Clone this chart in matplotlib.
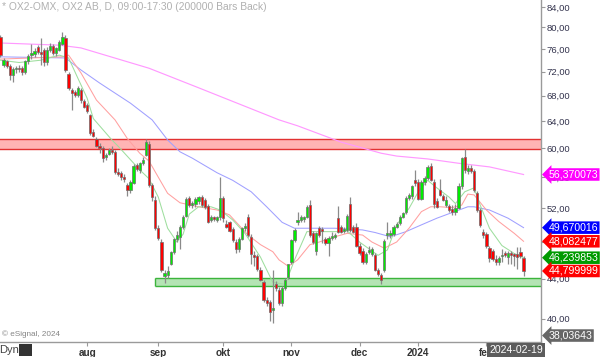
import matplotlib
matplotlib.use('Agg')
import matplotlib.pyplot as plt
import matplotlib.transforms as mtransforms
from matplotlib.patches import Rectangle
from matplotlib.ticker import NullLocator, FixedLocator
import numpy as np
import pandas as pd

plt.rcParams['font.family'] = ['Liberation Sans', 'DejaVu Sans']

# ---------------- data ----------------
first_day = '2023-06-21'
last_day = '2024-02-19'
exchange_holidays = ['2023-06-23', '2023-12-25', '2023-12-26', '2024-01-01']

opens = [78.2, 73.2, 73.8, 73.0, 71.4, 72.4, 72.6, 72.6, 71.9, 73.8,
         74.9, 75.1, 76.3, 75.3, 75.8, 73.6, 75.8, 76.6, 75.3, 75.9,
         77.0, 78.1, 71.6, 68.9, 68.6, 68.1, 68.9, 67.1, 66.5, 64.9,
         62.4, 61.3, 60.4, 60.1, 58.7, 59.2, 59.6, 59.5, 56.7, 56.6,
         56.0, 55.0, 54.3, 55.3, 57.7, 57.0, 58.0, 59.1, 60.6, 55.0,
         53.1, 49.6, 48.0, 44.3, 44.4, 45.6, 46.9, 48.4, 48.6, 49.8,
         51.1, 53.3, 52.4, 52.5, 52.9, 53.4, 53.1, 52.3, 50.6, 50.9,
         50.6, 50.9, 53.3, 50.1, 50.3, 49.5, 48.0, 47.2, 48.4, 49.6,
         51.0, 48.6, 46.4, 46.4, 44.9, 43.6, 41.8, 41.6, 40.8, 43.4,
         42.8, 41.5, 43.0, 44.2, 45.8, 48.2, 50.4, 50.6, 50.7, 51.0,
         52.4, 49.0, 47.0, 49.6, 49.4, 48.3, 47.9, 48.5, 48.6, 50.8,
         49.7, 49.3, 49.4, 52.6, 49.7, 49.7, 47.6, 47.0, 45.8, 46.9,
         46.7, 46.5, 44.9, 44.4, 44.9, 48.8, 48.8, 48.9, 49.8, 50.2,
         51.0, 51.5, 53.3, 53.5, 55.6, 55.4, 53.2, 55.4, 55.9, 57.5,
         55.4, 52.9, 54.3, 53.5, 52.4, 52.3, 51.9, 51.6, 52.1, 54.9,
         58.8, 56.9, 57.3, 56.8, 53.9, 51.8, 49.2, 48.9, 47.3, 47.0,
         46.1, 45.8, 46.4, 46.8, 46.3, 46.8, 46.6, 46.6, 46.9, 46.2]
highs = [78.5, 74.4, 74.0, 73.3, 72.8, 73.0, 73.1, 73.0, 74.0, 75.1,
         77.0, 76.2, 76.8, 78.0, 76.2, 76.3, 77.1, 77.0, 76.4, 77.6,
         79.1, 78.5, 72.0, 69.2, 68.9, 69.6, 69.3, 67.4, 66.8, 65.1,
         62.8, 61.6, 60.7, 60.3, 59.4, 60.0, 60.4, 59.8, 57.2, 56.9,
         56.4, 55.3, 55.6, 57.8, 58.0, 58.1, 58.7, 61.4, 61.0, 55.3,
         53.5, 50.0, 48.3, 44.9, 45.3, 47.0, 48.5, 49.3, 50.0, 51.2,
         53.4, 53.6, 52.9, 53.4, 53.6, 53.7, 53.3, 52.6, 51.2, 51.1,
         51.1, 56.0, 53.6, 50.6, 50.5, 49.8, 48.3, 48.6, 49.8, 50.2,
         51.3, 48.9, 47.0, 46.6, 45.2, 43.8, 42.1, 41.8, 44.9, 43.7,
         43.1, 43.2, 44.1, 45.6, 48.3, 49.6, 51.5, 51.2, 51.1, 52.4,
         53.0, 49.3, 49.2, 49.9, 49.7, 48.6, 48.7, 49.2, 49.0, 52.3,
         50.0, 49.7, 51.3, 53.4, 50.0, 50.2, 47.9, 47.3, 46.9, 47.5,
         47.4, 46.8, 45.1, 44.6, 48.3, 50.3, 49.4, 50.0, 50.4, 51.2,
         51.6, 53.6, 53.9, 55.0, 57.0, 55.8, 55.7, 56.2, 57.7, 57.9,
         55.8, 53.3, 55.8, 53.8, 53.5, 52.6, 52.4, 52.6, 55.2, 58.8,
         59.9, 57.6, 57.6, 57.1, 54.2, 52.0, 49.5, 49.1, 47.5, 47.2,
         46.5, 46.4, 47.2, 47.0, 47.0, 47.0, 46.8, 47.4, 47.4, 46.4]
lows = [74.6, 72.9, 72.6, 70.6, 70.3, 71.8, 72.0, 71.5, 71.6, 73.4,
        74.3, 74.6, 75.1, 73.2, 73.0, 73.2, 75.5, 75.0, 74.8, 75.6,
        76.8, 72.0, 69.0, 65.7, 67.8, 67.8, 66.9, 66.0, 65.2, 62.0,
        61.6, 60.2, 59.4, 58.1, 58.4, 59.0, 59.2, 56.5, 56.2, 55.6,
        55.4, 53.5, 54.0, 55.1, 56.9, 56.6, 57.6, 58.9, 54.7, 52.9,
        49.4, 48.2, 44.7, 43.5, 44.1, 45.4, 46.6, 48.0, 47.2, 49.5,
        50.9, 52.2, 52.1, 52.2, 52.6, 52.2, 51.9, 50.2, 50.3, 50.5,
        50.4, 50.6, 50.3, 49.6, 49.1, 48.0, 46.8, 46.9, 48.2, 49.3,
        48.6, 45.6, 45.3, 44.8, 43.7, 41.6, 41.2, 39.8, 39.6, 42.7,
        41.3, 41.2, 42.8, 44.0, 45.6, 48.0, 50.0, 50.3, 50.4, 50.8,
        48.6, 47.8, 46.5, 48.6, 47.9, 47.7, 46.4, 48.2, 48.3, 49.0,
        49.0, 49.0, 49.2, 49.2, 49.0, 47.4, 46.5, 45.6, 45.5, 46.7,
        46.4, 44.8, 44.3, 43.4, 44.7, 48.4, 48.5, 48.7, 49.6, 50.0,
        50.8, 51.3, 53.0, 53.2, 54.9, 53.0, 53.0, 55.0, 55.6, 55.5,
        52.1, 52.0, 53.5, 52.9, 52.2, 51.5, 51.2, 51.2, 51.9, 54.5,
        56.6, 56.5, 56.6, 54.1, 51.6, 49.8, 48.5, 47.3, 45.8, 45.9,
        45.4, 45.4, 45.8, 46.3, 45.6, 45.6, 45.3, 45.0, 46.2, 44.3]
closes = [74.9, 74.0, 73.0, 71.4, 72.4, 72.6, 72.4, 71.9, 73.8, 74.8,
          75.2, 75.6, 75.4, 75.1, 73.6, 75.8, 76.6, 75.3, 76.1, 77.3,
          78.3, 72.3, 69.3, 68.4, 68.1, 69.3, 67.3, 66.2, 65.5, 62.2,
          61.8, 60.4, 60.1, 58.6, 59.1, 59.7, 59.5, 56.7, 56.4, 56.0,
          55.8, 54.3, 55.4, 57.5, 57.1, 57.9, 58.4, 60.9, 55.0, 53.4,
          49.6, 48.5, 44.9, 44.6, 44.8, 46.9, 48.4, 48.8, 49.8, 51.0,
          53.2, 52.4, 52.5, 53.2, 53.4, 52.4, 52.2, 50.4, 50.9, 50.7,
          51.0, 53.3, 50.8, 49.8, 49.3, 48.2, 47.2, 48.4, 49.6, 49.9,
          48.8, 46.6, 46.3, 45.0, 43.9, 41.8, 41.5, 40.6, 41.0, 43.0,
          41.5, 43.0, 43.9, 45.5, 48.2, 49.4, 50.6, 51.0, 50.9, 52.2,
          48.8, 48.0, 49.0, 48.8, 49.3, 47.9, 48.5, 48.6, 48.8, 49.2,
          49.2, 49.4, 51.1, 49.4, 49.2, 47.5, 46.8, 45.8, 46.6, 47.0,
          47.2, 44.9, 44.5, 43.8, 48.1, 48.9, 49.0, 49.8, 50.1, 51.0,
          51.4, 53.3, 53.7, 54.8, 55.2, 53.2, 55.4, 55.9, 57.4, 55.7,
          52.5, 52.2, 53.7, 53.1, 53.1, 51.8, 51.6, 52.1, 54.8, 58.6,
          57.0, 57.3, 56.8, 54.3, 51.8, 50.0, 48.8, 47.5, 46.2, 46.1,
          45.8, 46.2, 46.4, 46.5, 46.8, 46.5, 46.4, 46.3, 46.4, 44.8]

# moving averages: (bar number, value)
ma_fast_bar = [0, 6, 13, 19, 22, 25, 28, 30, 36, 38, 45, 48, 51, 54, 57, 59, 61, 64,
               68, 71, 75, 79, 84, 88, 92, 95, 99, 103, 109, 112, 116, 122, 125, 128,
               132, 135, 138, 141, 145, 147, 150, 153, 155, 158, 162, 166, 169]
ma_fast_val = [74.0, 73.6, 74.0, 74.9, 74.4, 70.9, 67.6, 64.4, 61.2, 60.3, 57.0, 55.8,
               53.4, 49.6, 48.0, 48.9, 51.3, 52.2, 52.2, 51.8, 50.6, 49.0, 46.3, 43.6,
               43.4, 46.0, 49.2, 49.2, 49.2, 49.3, 48.0, 46.5, 47.1, 50.0, 52.0, 54.1,
               55.6, 54.6, 53.4, 52.6, 54.1, 54.6, 52.4, 49.6, 47.6, 46.7, 46.239853]
ma_mid_bar = [0, 20, 22, 26, 31, 37, 41, 45, 48, 51, 54, 58, 64, 70, 74, 80, 84, 88,
              90, 93, 96, 100, 103, 108, 112, 117, 120, 124, 128, 132, 136, 139, 142,
              146, 149, 151, 153, 157, 161, 166, 169]
ma_mid_val = [74.2, 74.6, 74.9, 71.8, 67.3, 64.2, 61.4, 59.3, 58.2, 56.0, 53.9, 52.7,
              52.2, 51.8, 51.2, 48.8, 47.7, 46.9, 46.0, 45.3, 46.0, 47.7, 48.0, 48.6,
              49.0, 48.8, 48.0, 47.3, 48.0, 49.6, 51.6, 52.2, 52.2, 52.1, 52.4, 53.8,
              53.7, 51.8, 50.4, 49.0, 48.082477]
ma_slow_bar = [0, 21, 26, 32, 42, 49, 54, 58, 62, 70, 75, 81, 86, 91, 95, 97, 108,
               117, 121, 126, 131, 136, 141, 146, 151, 153, 158, 164, 169]
ma_slow_val = [74.6, 74.4, 72.3, 70.1, 66.8, 64.2, 61.2, 59.5, 58.6, 56.6, 55.6, 54.1,
               52.2, 50.3, 49.6, 49.6, 49.6, 49.4, 49.1, 48.6, 49.2, 50.0, 50.8, 51.5,
               52.2, 52.2, 51.8, 50.8, 49.670016]
ma_long_bar = [0, 19, 26, 48, 64, 90, 96, 110, 123, 128, 138, 148, 158, 169]
ma_long_val = [77.1, 76.7, 76.2, 72.6, 69.3, 64.2, 63.3, 60.9, 59.3, 58.9, 58.5, 57.9,
               57.4, 56.370073]

month_starts = ['2023-08-01', '2023-09-01', '2023-10-02', '2023-11-01',
                '2023-12-01', '2024-01-02', '2024-02-01']
month_labels = ['aug', 'sep', 'okt', 'nov', 'dec', '2024', 'feb']

price_ticks = [40, 44, 48, 52, 56, 60, 64, 68, 72, 76, 80, 84]
price_tick_labels = ['40,00', '44,00', '48,00', '52,00', '56,00', '60,00',
                     '64,00', '68,00', '72,00', '76,00', '80,00', '84,00']

marker_values = [56.370073, 49.670016, 48.082477, 46.239853, 44.799999, 38.03643]
marker_labels = ['56,370073', '49,670016', '48,082477', '46,239853', '44,799999', '38,03643']
marker_colors = ['#ff00ff', '#0000ff', '#ff0000', '#009a00', '#ff0000', '#666666']

resistance_zone = [59.9, 61.35]
support_zone = [43.2, 44.1]
support_start = '2023-08-31'

title_text = '* OX2-OMX, OX2 AB, D, 09:00-17:30 (200000 Bars Back)'
copyright_text = '\u00a9 eSignal, 2024'
last_date_text = '2024-02-19'

# ---------------- figure ----------------
dates = pd.bdate_range(first_day, last_day)
dates = dates[~dates.isin(pd.to_datetime(exchange_holidays))]
n = len(closes)
bars = np.arange(n)
date_pos = {d.strftime('%Y-%m-%d'): i for i, d in enumerate(dates)}

fig = plt.figure(figsize=(6.0, 3.57), dpi=100)
ax = fig.add_axes([0.0, 15 / 357, 541 / 600, 342 / 357])
ax.set_yscale('log')
ax.set_ylim(37.83, 85.41)
ax.set_xlim(-0.16, 174.64)

# zones
ax.axhspan(resistance_zone[0], resistance_zone[1], facecolor='#ffb4b4', edgecolor='none', zorder=0.5)
for v in resistance_zone:
    ax.axhline(v, color='#e23232', lw=1.0, zorder=0.6)
xs0 = date_pos[support_start] - 0.2
ax.fill_between([xs0, 174.64], support_zone[0], support_zone[1], facecolor='#b4e4b4',
                edgecolor='none', zorder=0.5)
ax.hlines(support_zone, xs0, 174.64, color='#3cb43c', lw=1.0, zorder=0.6)
ax.vlines(xs0, support_zone[0], support_zone[1], color='#3cb43c', lw=1.0, zorder=0.6)

# moving averages
ax.plot(ma_long_bar, ma_long_val, color='#ff99ff', lw=0.85, zorder=1)
ax.plot(ma_slow_bar, ma_slow_val, color='#a0a0ff', lw=0.75, zorder=1)
ax.plot(ma_mid_bar, ma_mid_val, color='#ffa0a0', lw=0.75, zorder=1)
ax.plot(ma_fast_bar, ma_fast_val, color='#9ede9e', lw=0.75, zorder=1)

# candles
o = np.array(opens); h = np.array(highs); l = np.array(lows); c = np.array(closes)
ax.vlines(bars, l, h, color='#8a8a8a', lw=0.9, zorder=2)
body_lo = np.minimum(o, c)
body_hi = np.maximum(o, c)
body_hi = np.maximum(body_hi, body_lo * 1.004)
cols = np.where(c >= o, '#00ee00', '#ff0000')
ax.bar(bars, body_hi - body_lo, bottom=body_lo, width=0.72, color=cols,
       edgecolor='#6e6e6e', linewidth=0.5, zorder=3)

# axes styling
for s in ['top', 'left']:
    ax.spines[s].set_visible(False)
for s in ['right', 'bottom']:
    ax.spines[s].set_color('#9a9a9a')
    ax.spines[s].set_linewidth(1.0)
ax.yaxis.tick_right()
ax.yaxis.set_major_locator(FixedLocator(price_ticks))
ax.yaxis.set_minor_locator(NullLocator())
ax.set_yticklabels(price_tick_labels)
ax.tick_params(axis='y', direction='out', length=3, width=0.8, color='#9a9a9a',
               labelsize=6.8, labelcolor='#33334d', pad=1)
ax.set_xticks([date_pos[m] for m in month_starts])
ax.set_xticklabels(month_labels, fontweight='bold')
ax.tick_params(axis='x', direction='out', length=3, width=0.8, color='#9a9a9a',
               labelsize=7.2, labelcolor='#333333', pad=1)

# last value markers
trans = mtransforms.blended_transform_factory(ax.transAxes, ax.transData)
for v, s, col in zip(marker_values, marker_labels, marker_colors):
    dy = 3 if v < 39 else 0
    ax.annotate(s, xy=(1.0, v), xycoords=trans, xytext=(5.5, dy), textcoords='offset points',
                ha='left', va='center', fontsize=7.6, color='white', zorder=6,
                bbox=dict(boxstyle='larrow,pad=0.12', fc=col, ec='none'),
                annotation_clip=False)

# texts
fig.text(2 / 600, 1 - 7 / 357, title_text, ha='left', va='center', fontsize=7.4, color='#b0b0b0')
fig.text(2 / 600, 1 - 334 / 357, copyright_text, ha='left', va='center', fontsize=5.9, color='#858585')
fig.text(-1 / 600, 1 - 350 / 357, 'Dyn', ha='left', va='center', fontsize=8, color='#444444')
fig.patches.append(Rectangle((19 / 600, 1 - 356 / 357), 13 / 600, 12 / 357, transform=fig.transFigure,
                             facecolor='#333333', edgecolor='none'))
fig.text(516 / 600, 1 - 350 / 357, last_date_text, ha='center', va='center', fontsize=7.6,
         color='white', bbox=dict(boxstyle='square,pad=0.18', fc='#5c5c5c', ec='none'))

fig.savefig('out.png', dpi=100)
